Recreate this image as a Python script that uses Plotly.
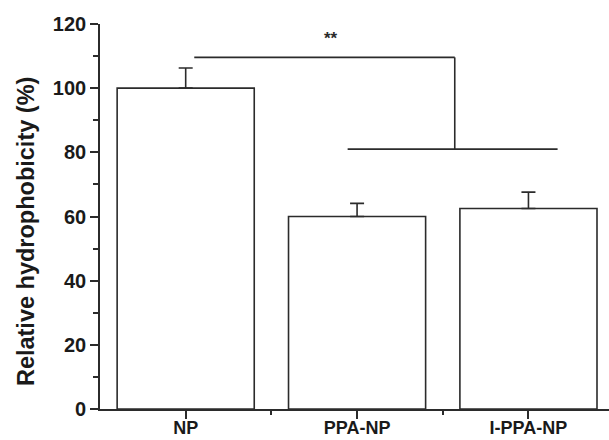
import plotly.graph_objects as go

categories = ["NP", "PPA-NP", "I-PPA-NP"]
values = [100.0, 60.0, 62.5]
errors = [6.3, 4.1, 5.1]
y_ticks = [0, 20, 40, 60, 80, 100, 120]
y_title = "Relative hydrophobicity (%)"

# significance bracket (data units)
bracket_upper_y = 109.6
bracket_upper_x = [0.05, 1.57]
bracket_lower_y = 81.0
bracket_lower_x = [0.945, 2.17]
sig_label = "**"
sig_pos = [0.85, 115.5]

line_col = "#2b2b2b"
x_idx = list(range(len(categories)))

fig = go.Figure()
fig.add_trace(go.Bar(
    x=x_idx, y=values, width=0.8,
    marker=dict(color="white", line=dict(color=line_col, width=1.6)),
    error_y=dict(type="data", array=errors, arrayminus=[0] * len(errors),
                 symmetric=False, color=line_col, thickness=1.6, width=7),
    showlegend=False, hoverinfo="skip",
))

# bracket
fig.add_shape(type="line", x0=bracket_upper_x[0], x1=bracket_upper_x[1],
              y0=bracket_upper_y, y1=bracket_upper_y, line=dict(color=line_col, width=1.6))
fig.add_shape(type="line", x0=bracket_upper_x[1], x1=bracket_upper_x[1],
              y0=bracket_upper_y, y1=bracket_lower_y, line=dict(color=line_col, width=1.6))
fig.add_shape(type="line", x0=bracket_lower_x[0], x1=bracket_lower_x[1],
              y0=bracket_lower_y, y1=bracket_lower_y, line=dict(color=line_col, width=1.6))
fig.add_annotation(x=sig_pos[0], y=sig_pos[1], text=sig_label, showarrow=False,
                   font=dict(family="Liberation Sans", size=17, color=line_col))

font_bold = dict(family="Liberation Sans", size=20, color="#1a1a1a", weight="bold")

# y-axis title as a rotated annotation for precise placement
fig.add_annotation(xref="paper", yref="paper", x=-0.145, y=0.46, text=y_title,
                   textangle=-90, showarrow=False, xanchor="center", yanchor="middle",
                   font=dict(family="Liberation Sans", size=23.5, color="#1a1a1a", weight="bold"))

fig.update_layout(
    width=609, height=440,
    margin=dict(l=100, r=0, t=24, b=31, autoexpand=False),
    paper_bgcolor="white", plot_bgcolor="white",
    font=font_bold,
    bargap=0.2,
)
fig.update_xaxes(
    range=[-0.5, 2.47], tickmode="array", tickvals=x_idx, ticktext=categories,
    showline=True, linecolor=line_col, linewidth=1.6,
    ticks="outside", ticklen=8, tickwidth=1.6, tickcolor=line_col,
    minor=dict(tickmode="array", tickvals=[0.5, 1.5], ticks="outside", ticklen=4,
               tickwidth=1.6, tickcolor=line_col),
    showgrid=False, zeroline=False, tickfont=dict(font_bold, size=18),
    automargin=False, ticklabelstandoff=-6,
)
fig.update_yaxes(
    range=[0, 120], tickmode="array", tickvals=y_ticks,
    showline=True, linecolor=line_col, linewidth=1.6,
    ticks="outside", ticklen=8, tickwidth=1.6, tickcolor=line_col,
    minor=dict(tick0=0, dtick=10, ticks="outside", ticklen=5,
               tickwidth=1.6, tickcolor=line_col),
    showgrid=False, zeroline=False, tickfont=font_bold,
    automargin=False,
)

fig.write_html("out.html", config={"displayModeBar": False},
               post_script="document.body.style.margin='0';document.body.style.overflow='hidden';")
